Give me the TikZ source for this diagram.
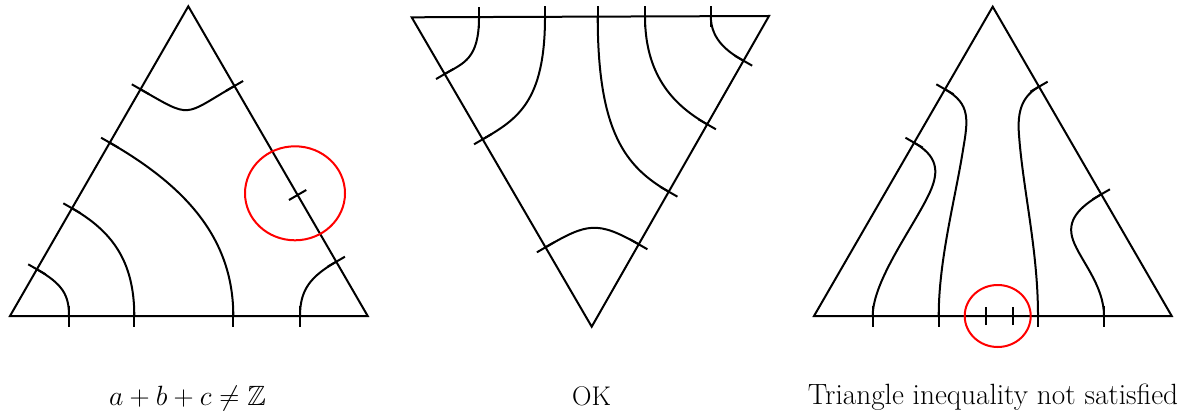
\documentclass[tikz,border=0pt]{standalone}
\usepackage{amssymb}
\usepackage{graphicx}
\usetikzlibrary{calc}
\tikzset{
  edgeline/.style={line width=2pt, line join=miter},
  strand/.style={line width=2pt},
  tickmark/.style={line width=2pt},
  redloop/.style={red, line width=2pt},
  lab/.style={anchor=base, inner sep=0pt}
}
\newcommand{\tickat}[3]{\draw[tickmark] ($(#1)+(#2,#3)$) -- ($(#1)-(#2,#3)$);}
\begin{document}
\begin{tikzpicture}[x=1pt,y=-1pt]
\useasboundingbox (0,0) rectangle (1185,414);
% ---------------- Triangle 1 ----------------
\coordinate (A1) at (10,316);
\coordinate (B1) at (367.7,316);
\coordinate (C1) at (188.3,6.3);
\draw[edgeline] (A1) -- (B1) -- (C1) -- cycle;
\coordinate (L1a) at ($(A1)!0.732!(C1)$);
\coordinate (L1b) at ($(A1)!0.5596!(C1)$);
\coordinate (L1c) at ($(A1)!0.3478!(C1)$);
\coordinate (L1d) at ($(A1)!0.1508!(C1)$);
\coordinate (R1a) at ($(B1)!0.7427!(C1)$);
\coordinate (R1b) at ($(B1)!0.3907!(C1)$);
\coordinate (R1c) at ($(B1)!0.1753!(C1)$);
\coordinate (D1a) at (69,316);
\coordinate (D1b) at (134.3,316);
\coordinate (D1c) at (233.3,316);
\coordinate (D1d) at (300,316);
\foreach \p in {L1a,L1b,L1c,L1d} {\tickat{\p}{8.67}{4.98}}
\foreach \p in {R1a,R1b,R1c} {\tickat{\p}{8.66}{-5}}
\foreach \p in {D1a,D1b,D1c,D1d} {\tickat{\p}{0}{10.5}}
\draw[strand] (L1a) .. controls ($(L1a)+(52,29.9)$) and ($(R1a)+(-52,30)$) .. (R1a);
\draw[strand] (L1b) .. controls ($(L1b)+(78,44.8)$) and ($(D1c)+(0,-76)$) .. (D1c);
\draw[strand] (L1c) .. controls ($(L1c)+(39,22.4)$) and ($(D1b)+(0,-56)$) .. (D1b);
\draw[strand] (L1d) .. controls ($(L1d)+(26,15)$) and ($(D1a)+(0,-21)$) .. (D1a);
\draw[strand] (R1c) .. controls ($(R1c)+(-26,15)$) and ($(D1d)+(0,-26)$) .. (D1d);
\draw[redloop] (295,193.3) ellipse [x radius=50, y radius=47];
% ---------------- Triangle 2 ----------------
\coordinate (A2) at (411.7,17.3);
\coordinate (B2) at (769,16);
\coordinate (C2) at (591.7,326.7);
\draw[edgeline] (A2) -- (B2) -- (C2) -- cycle;
\coordinate (T2a) at ($(A2)!0.1884!(B2)$);
\coordinate (T2b) at ($(A2)!0.3731!(B2)$);
\coordinate (T2c) at ($(A2)!0.5206!(B2)$);
\coordinate (T2d) at ($(A2)!0.6530!(B2)$);
\coordinate (T2e) at ($(A2)!0.8371!(B2)$);
\coordinate (L2a) at ($(A2)!0.1833!(C2)$);
\coordinate (L2b) at ($(A2)!0.3943!(C2)$);
\coordinate (L2c) at ($(A2)!0.7434!(C2)$);
\coordinate (R2a) at ($(B2)!0.1439!(C2)$);
\coordinate (R2b) at ($(B2)!0.3486!(C2)$);
\coordinate (R2c) at ($(B2)!0.5655!(C2)$);
\coordinate (R2d) at ($(B2)!0.7348!(C2)$);
\foreach \p in {T2a,T2b,T2c,T2d,T2e} {\tickat{\p}{0}{10.5}}
\foreach \p in {L2a,L2b,L2c} {\tickat{\p}{8.64}{-5.03}}
\foreach \p in {R2a,R2b,R2c,R2d} {\tickat{\p}{-8.68}{-4.96}}
\draw[strand] (T2a) .. controls ($(T2a)+(0,42)$) and ($(L2a)+(19,-11)$) .. (L2a);
\draw[strand] (T2b) .. controls ($(T2b)+(0,85)$) and ($(L2b)+(34.6,-20.1)$) .. (L2b);
\draw[strand] (T2c) .. controls ($(T2c)+(0,115)$) and ($(R2c)+(-43.4,-24.8)$) .. (R2c);
\draw[strand] (T2d) .. controls ($(T2d)+(0,62)$) and ($(R2b)+(-30.4,-17.4)$) .. (R2b);
\draw[strand] (T2e) .. controls ($(T2e)+(0,25)$) and ($(R2a)+(-13,-7.4)$) .. (R2a);
\draw[strand] (L2c) .. controls ($(L2c)+(41.5,-24.1)$) and ($(R2d)+(-41.7,-23.8)$) .. (R2d);
% ---------------- Triangle 3 ----------------
\coordinate (A3) at (814,316);
\coordinate (B3) at (1171.7,316);
\coordinate (C3) at (992.7,6.7);
\draw[edgeline] (A3) -- (B3) -- (C3) -- cycle;
\coordinate (L3a) at ($(A3)!0.733!(C3)$);
\coordinate (L3b) at ($(A3)!0.5603!(C3)$);
\coordinate (R3a) at ($(B3)!0.7414!(C3)$);
\coordinate (R3b) at ($(B3)!0.3935!(C3)$);
\coordinate (D3a) at (872.7,316);
\coordinate (D3b) at (938.7,316);
\coordinate (D3c) at (1038,316);
\coordinate (D3d) at (1104,316);
\coordinate (D3x) at (985.7,316);
\coordinate (D3y) at (1013.3,316);
\foreach \p in {L3a,L3b} {\tickat{\p}{8.67}{4.98}}
\foreach \p in {R3a,R3b} {\tickat{\p}{8.66}{-5}}
\foreach \p in {D3a,D3b,D3c,D3d} {\tickat{\p}{0}{10.5}}
\foreach \p in {D3x,D3y} {\tickat{\p}{0}{9}}
\draw[strand] (L3a) .. controls ($(L3a)+(26,14.7)$) and (968,120) .. (963,150)
   .. controls (955,200) and ($(D3b)+(0,-56)$) .. (D3b);
\draw[strand] (L3b) .. controls ($(L3b)+(22.3,12.8)$) and (940,170) .. (930,192)
   .. controls (915,225) and ($(D3a)+(0,-36)$) .. (D3a);
\draw[strand] (R3a) .. controls ($(R3a)+(-16.3,9.3)$) and (1017,110) .. (1019,135)
   .. controls (1023,190) and ($(D3c)+(0,-66)$) .. (D3c);
\draw[strand] (R3b) .. controls ($(R3b)+(-21.7,12.7)$) and (1066,220) .. (1073,240)
   .. controls (1080,260) and ($(D3d)+(0,-31)$) .. (D3d);
\draw[redloop] (997.7,316) ellipse [x radius=33, y radius=31];
% ---------------- Labels ----------------
\node[lab, font=\fontsize{24.88}{30}\selectfont] (lab1) at (187.5,405) {\scalebox{1.12}{$a+b+c\neq\mathbb{Z}$}};
\node[lab, font=\fontsize{27}{32}\selectfont] (lab2) at (591.5,405) {OK};
\node[lab, font=\fontsize{29.3}{34}\selectfont] (lab3) at (993,404) {Triangle inequality not satisfied};
\end{tikzpicture}
\end{document}
